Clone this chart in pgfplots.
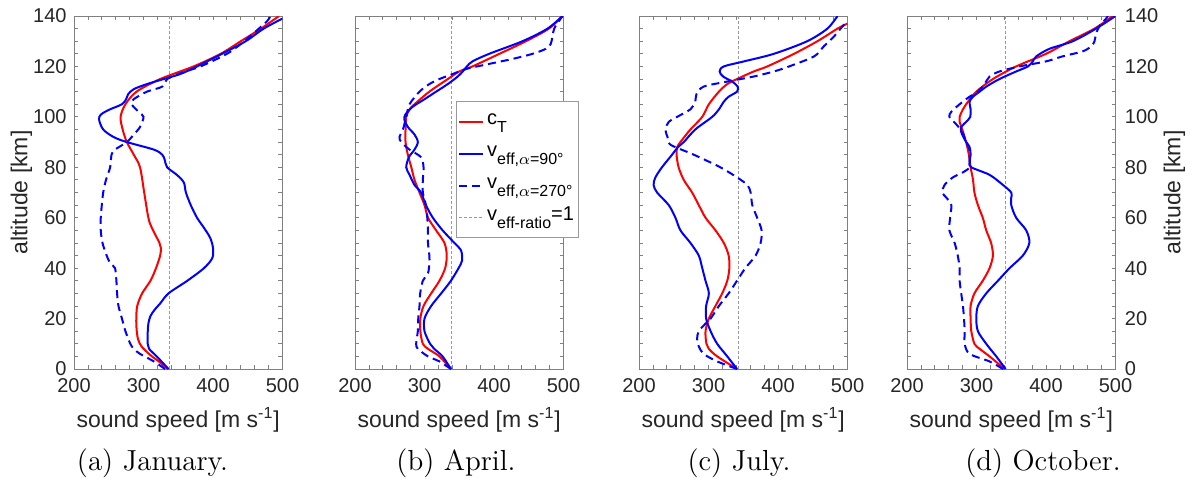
\documentclass[border=0pt]{standalone}
\usepackage{fontspec}
\setsansfont{Liberation Sans}
\usepackage{graphicx}
\usepackage{pgfplots}
\pgfplotsset{compat=1.18}

\definecolor{axgray}{gray}{0.5}
\definecolor{txt}{gray}{0.15}
\definecolor{refgray}{gray}{0.6}

\newcommand\lsub[1]{\raisebox{-0.75ex}{\fontsize{8}{9}\selectfont #1}}

\pgfplotsset{
 panel/.style={
  scale only axis, width=104.25pt, height=176.5pt,
  xmin=200,xmax=500,ymin=0,ymax=140,
  xtick={200,300,400,500}, ytick={0,20,...,140},
  minor x tick num=4, minor y tick num=3,
  tick align=inside, major tick length=2pt, minor tick length=2pt,
  axis line style={axgray, line width=0.5pt},
  every tick/.style={axgray, line width=0.4pt},
  tick label style={font=\fontsize{10}{12}\selectfont\sffamily, text=txt, inner sep=0pt},
  xticklabel style={yshift=-4.5pt},
  yticklabel style={xshift=-3.5pt},
  /pgf/number format/assume math mode=true,
  label style={font=\fontsize{11.5}{13}\selectfont\sffamily, text=txt},
  xlabel={sound speed [m s\textsuperscript{-1}]},
  xlabel style={at={(axis description cs:0.5,-0.1445)}, anchor=center},
 },
 ct/.style={red, line width=1pt, smooth, no marks},
 v90/.style={blue, line width=1pt, smooth, no marks},
 v270/.style={blue, line width=1pt, smooth, no marks, dash pattern=on 4pt off 2.5pt},
 vref/.style={refgray, line width=0.5pt, dash pattern=on 1.5pt off 1pt, no marks},
}

\begin{document}
\begin{tikzpicture}
\useasboundingbox (0,0) rectangle (596pt,-240.5pt);

% ---------------- (a) January
\begin{axis}[panel, at={(37pt,-184.5pt)}, anchor=south west,
  ylabel={altitude [km]},
  ylabel style={at={(axis description cs:-0.252,0.5)}, anchor=center}]
\addplot[vref] coordinates {(338,0) (338,140)};
\addplot[ct] coordinates {(335,0)(322,3)(310,5.5)(297,9)(292,12)(290,16)(289.6,20)(291,25)(298,30)(310,35)(318,40)(324,45)(325,48)(323,50)(312,56)(307,60)(301,70)(295,80)(286,85)(276,90)(270,95)(267,100)(274,105)(290,110)(324,115)(372,120)(411,125)(440,130)(469,135)(495,140)};
\addplot[v90] coordinates {(336,0)(319,5)(308,8)(306,10)(306,14)(307,18)(310,21)(316,23.5)(324,26)(336,30)(363,35)(387,40)(399,44)(400,48)(396,52)(387,56)(377,60)(368,65)(361,70)(358,74)(348,77)(334,80)(330.5,83)(327,85)(315,87)(276,90)(257,92)(242,95)(236,99)(239,101)(252,103)(269,105)(275,107)(278,109)(286,111)(305,113)(329,115)(353,117)(377,120)(413,125)(447,130)(473,135)(500,139)};
\addplot[v270] coordinates {(331,0)(315,3)(295,6)(286,8)(281,10)(274,15)(269,20)(264,25)(262,30)(261,35)(259,40)(252,42)(247,45)(241,50)(238.5,55)(238.5,60)(240,65)(242,70)(246,75)(252,80)(254,85)(259,87)(276,90)(286,93)(295,96)(300,100)(293,102)(283,105)(286,107)(305,110)(327,112)(334,115)(360,118)(382,120)(420,125)(445,130)(466,135)(478,138)(483,140)};
\end{axis}
\node[font=\fontsize{14.5}{16}\selectfont] at (76.25pt,-231.5pt) {(a) January.};

% ---------------- (b) April
\begin{axis}[panel, at={(177.5pt,-184.5pt)}, anchor=south west,
  yticklabels={},
  legend style={at={(axis description cs:0.483,0.759)}, anchor=north west,
    draw=black!40, fill=white, line width=0.5pt,
    font=\fontsize{10}{12}\selectfont\sffamily, text=black,
    inner xsep=1pt, inner ysep=2pt, row sep=0pt,
    nodes={text height=8pt, text depth=5pt, inner sep=1.5pt}},
  legend cell align=left,
  legend image code/.code={\draw[#1] (0pt,0pt) -- (12pt,0pt);}]
\addplot[vref, forget plot] coordinates {(339,0) (339,140)};
\addplot[ct] coordinates {(338,0)(321.5,5)(305,8)(297.6,10)(294,15)(294,20)(298.6,25)(309.6,30)(321.5,35)(329.7,40)(332,45)(328.7,50)(316.7,55)(305,60)(300,65)(292.8,70)(285.6,75)(281,80)(276,85)(272.7,90)(272.7,95)(273.7,100)(278.5,103)(285.6,105)(307,110)(333.5,115)(350,118)(369,120)(407.7,125)(446,130)(479,135)(498.6,140)};
\addlegendentry{c\lsub{T}}
\addplot[v90] coordinates {(338,0)(326,5)(314,8)(308,10)(300,15)(300,20)(309.6,25)(324,30)(338,35)(349,40)(354,43)(352.6,47)(343,50)(326,55)(312,60)(302,65)(295,70)(285.6,73)(278.5,77)(273.7,80)(277.5,84)(285.6,87)(290.4,90)(285.6,93)(276,96)(271,99)(272.7,101)(283,104)(300,107)(316.7,110)(333.5,113)(347.8,116)(355,118)(361,120)(369,122)(393,125)(441,130)(477,135)(498.6,140)};
\addlegendentry{v\lsub{eff,$\alpha$=90°}}
\addplot[v270] coordinates {(338,0)(321.5,3)(305,5)(290.4,8)(288,10)(290.4,15)(291,20)(292.8,25)(293.8,30)(297.6,35)(305,38)(307,42)(307,45)(305,50)(305,55)(304,60)(302,65)(297.6,70)(297.6,75)(298.6,80)(295,84)(278.5,87)(266.5,90)(264,92)(269,95)(273.7,100)(278.5,105)(292.8,110)(307,113)(321.5,115)(340.7,117)(359.8,119)(393,121)(427,123)(455.5,125)(474.6,127)(481.8,129)(484,132)(486.6,135)(491,137)(498.6,140)};
\addlegendentry{v\lsub{eff,$\alpha$=270°}}
\addlegendimage{vref}
\addlegendentry{v\lsub{eff-ratio}=1}
\end{axis}
\node[font=\fontsize{14.5}{16}\selectfont] at (228pt,-231.5pt) {(b) April.};

% ---------------- (c) July
\begin{axis}[panel, at={(319.5pt,-184.5pt)}, anchor=south west, yticklabels={}]
\addplot[vref] coordinates {(343,0) (343,140)};
\addplot[ct] coordinates {(341,0)(312.5,5)(300.5,8)(297,10)(295.7,15)(300.5,20)(310,25)(319.7,30)(327,35)(330,40)(329,45)(322,50)(310,55)(295.7,60)(286,65)(276.4,70)(264.4,75)(257,80)(254,85)(255,88)(259.6,90)(274,95)(291,100)(300.5,105)(315,110)(327,113)(341,115)(365,118)(384.6,120)(423,125)(456.7,130)(485.6,135)(500,137)};
\addplot[v90] coordinates {(341,0)(327,5)(312.5,10)(303,15)(296.6,20)(296.6,25)(300.5,30)(295.7,35)(291,40)(286,45)(274,50)(259.6,55)(252.4,60)(242.8,65)(226,70)(221,73)(223.6,76)(233,80)(247.6,85)(256,88)(264.4,90)(281,95)(305.3,100)(315,103)(322,106)(329,108)(341,110)(342,112)(334,114)(321,116)(316,118)(322,120)(351,122)(394,125)(442,130)(471,135)(485.6,140)};
\addplot[v270] coordinates {(341,0)(312.5,3)(293,6)(286,9)(283.6,12)(286,15)(295.7,18)(303,20)(315,25)(329,30)(341,35)(353,40)(367.8,45)(375,50)(376.4,55)(370,60)(363,65)(360.6,70)(355.8,73)(341,76)(317,80)(278.8,85)(245,89)(241,92)(238,95)(242.8,98)(254.8,100)(274,103)(281,106)(282.6,109)(293,112)(327,114)(365,116)(394,118)(416,120)(452,124)(466,128)(481,132)(490,135)(500,138)};
\end{axis}
\node[font=\fontsize{14.5}{16}\selectfont] at (369.5pt,-231.5pt) {(c) July.};

% ---------------- (d) October
\begin{axis}[panel, at={(453.5pt,-184.5pt)}, anchor=south west,
  yticklabel pos=right, ytick pos=both,
  yticklabel style={xshift=8pt},
  ylabel={altitude [km]},
  ylabel style={at={(axis description cs:1.282,0.5)}, anchor=center}]
\addplot[vref] coordinates {(342,0) (342,140)};
\addplot[ct] coordinates {(340.4,0)(318.8,5)(304.5,8)(297,10)(292.5,15)(291.5,20)(291.5,25)(297,30)(309,35)(318.8,40)(323.6,45)(321,50)(314,55)(309,60)(302,65)(297,70)(295,75)(291.5,80)(289,85)(285,90)(279.5,95)(275.7,98)(275.7,100)(280.5,103)(287.7,106)(299.7,110)(323.6,115)(357,120)(400,125)(433.8,130)(469.8,135)(496,140)};
\addplot[v90] coordinates {(341.8,0)(328.4,5)(314,10)(302,15)(299.7,20)(302,25)(314,30)(330.8,35)(347.6,40)(366.7,45)(376,50)(371.5,55)(357,60)(350,65)(350,68)(350,70)(338,73)(318.8,77)(292.5,80)(290,82)(291.5,85)(290,88)(283,91)(278,94)(278,96)(285,98)(291,100)(291.5,103)(290,106)(295,108)(304.5,110)(314,112)(333,115)(357,118)(374,120)(381,122)(386,124)(405,127)(438.6,130)(472,135)(500,140)};
\addplot[v270] coordinates {(338,0)(318.8,3)(290,6)(283,10)(283,15)(282,20)(280.5,25)(278,30)(275.7,35)(275.7,40)(273,45)(268.5,50)(261,55)(262,60)(263.7,65)(256.5,68)(250.8,70)(254,73)(266,76)(280.5,78)(290,80)(290,83)(290,87)(285,90)(279.5,94)(271,97)(261,100)(263.7,102)(275.7,105)(290,108)(302,110)(311.6,113)(318.8,116)(333,118)(362,120)(400,122)(424,124)(453,126)(465,128)(469.8,130)(472,133)(477,136)(486.5,139)(489,140)};
\end{axis}
\node[font=\fontsize{14.5}{16}\selectfont] at (521.5pt,-231.5pt) {(d) October.};
\end{tikzpicture}
\end{document}
